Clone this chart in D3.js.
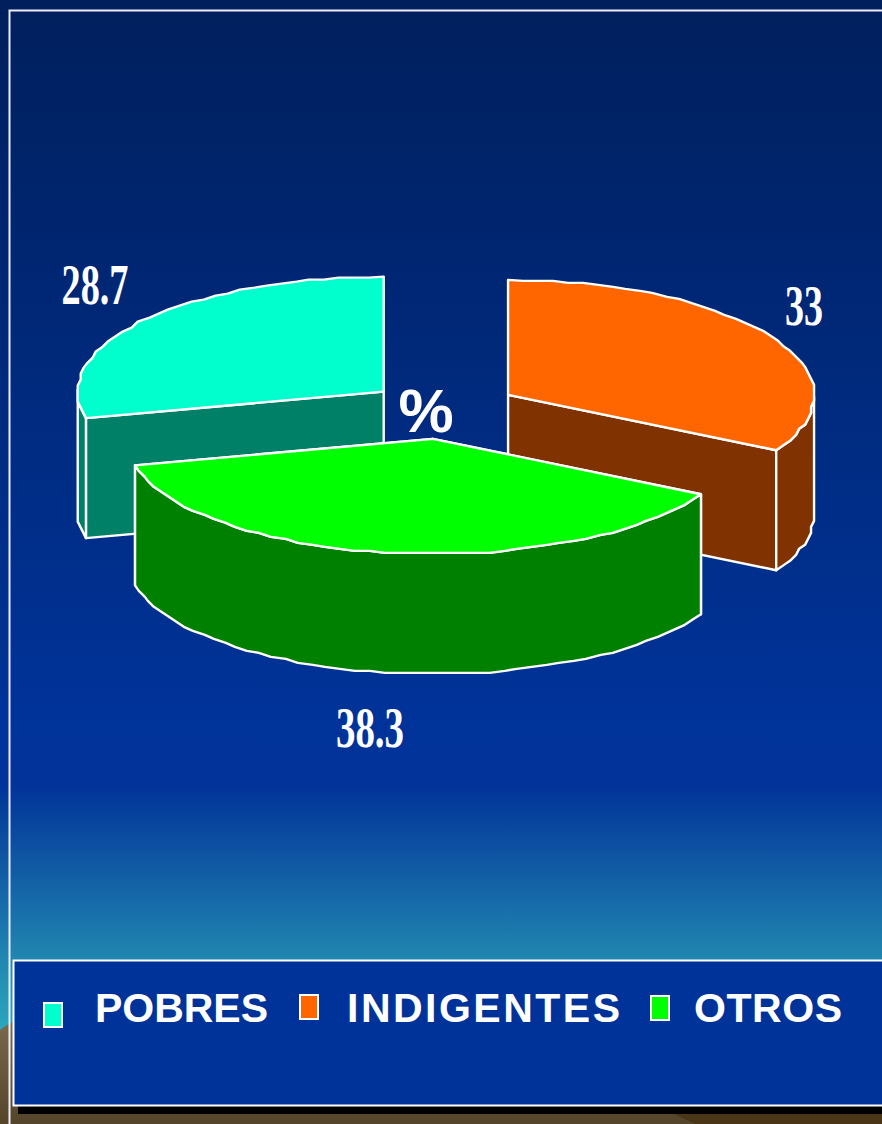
<!DOCTYPE html>
<html>
<head>
<meta charset="utf-8">
<script src="https://cdn.jsdelivr.net/npm/d3@7"></script>
<style>
html, body { margin: 0; padding: 0; background: #003399; overflow: hidden; }
svg { display: block; }
</style>
</head>
<body>
<div id="chart"></div>
<script>
var categories = ["INDIGENTES", "OTROS", "POBRES"];
var values = [33, 38.3, 28.7];
var valueLabels = ["33", "38.3", "28.7"];
var topColors = ["#ff6600", "#00ff00", "#00ffcc"];
var sideColors = ["#803300", "#008000", "#008066"];
var legendOrder = ["POBRES", "INDIGENTES", "OTROS"];

var width = 882, height = 1124;
var rx = 306, ry = 115, depth = 120, explode = 0.247, explodeY = 0.255;
var cx = 443, cy = 409.8;

var svg = d3.select("#chart").append("svg")
    .attr("width", width)
    .attr("height", height);

var defs = svg.append("defs");
var bg = defs.append("linearGradient").attr("id", "bg")
    .attr("x1", 0).attr("y1", 0).attr("x2", 0).attr("y2", 1);
bg.append("stop").attr("offset", 0).attr("stop-color", "#001f5c");
bg.append("stop").attr("offset", 0.69).attr("stop-color", "#003399");
bg.append("stop").attr("offset", 0.755).attr("stop-color", "#013399");
bg.append("stop").attr("offset", 0.95).attr("stop-color", "#2694b4");
bg.append("stop").attr("offset", 1).attr("stop-color", "#2dabc0");
var ground = defs.append("linearGradient").attr("id", "ground")
    .attr("x1", 0).attr("y1", 0).attr("x2", 0).attr("y2", 1);
ground.append("stop").attr("offset", 0).attr("stop-color", "#7a6a4c");
ground.append("stop").attr("offset", 1).attr("stop-color", "#54442a");

// Background
svg.append("rect").attr("width", width).attr("height", 1040).attr("fill", "url(#bg)");
svg.append("path")
    .attr("d", "M0,1030 Q8,1024 16,1020 L882,1020 L882,1124 L0,1124 Z")
    .attr("fill", "url(#ground)");
svg.append("path")
    .attr("d", "M672,1113 L882,1113 L882,1124 L695,1124 Z")
    .attr("fill", "#4a3616");
svg.append("rect")
    .attr("x", 9.5).attr("y", 10.5).attr("width", 880).attr("height", 1130)
    .attr("fill", "none").attr("stroke", "#eef").attr("stroke-width", 2);

// Pie angles
var pie = d3.pie().sort(null).value(function (d) { return d; });
var arcs = pie(values);

function project(angle, r) {
    return [rx * r * Math.sin(angle), -ry * r * Math.cos(angle)];
}

// arc edge in steps, rounded to a small grid like the original's jagged outline
function rim(a0, a1) {
    var n = Math.ceil(Math.abs(a1 - a0) / 0.05), pts = [];
    d3.range(n + 1).forEach(function (i) {
        var p = project(a0 + (a1 - a0) * i / n, 1);
        if (i > 0 && i < n) {
            p = [Math.round(p[0] / 3) * 3, Math.round(p[1] / 2) * 2];
        }
        pts.push(p);
    });
    return pts;
}

var line = d3.line().curve(d3.curveLinearClosed);
var stroke = function (sel) {
    return sel.attr("stroke", "#fff").attr("stroke-width", 2.4).attr("stroke-linejoin", "round");
};

// Back slices first, the green one sits in front
[2, 0, 1].forEach(function (i) {
    var d = arcs[i];
    var mid = (d.startAngle + d.endAngle) / 2;
    var off = [rx * explode * Math.sin(mid), -ry * explodeY * Math.cos(mid)];
    var g = svg.append("g")
        .attr("transform", "translate(" + (cx + off[0]) + "," + (cy + off[1]) + ")");
    var edge = rim(d.startAngle, d.endAngle);
    var down = function (p) { return [p[0], p[1] + depth]; };

    // cut faces that can be seen
    [project(d.startAngle, 1), project(d.endAngle, 1)].forEach(function (p) {
        if (p[1] > -ry + 1) {
            g.append("path")
                .attr("d", line([[0, 0], p, down(p), [0, depth]]))
                .attr("fill", sideColors[i])
                .call(stroke);
        }
    });

    // outer wall, only the part of the rim facing the viewer
    var front = edge.filter(function (p, k) {
        var a = d.startAngle + (d.endAngle - d.startAngle) * k / (edge.length - 1);
        return Math.cos(a) <= 0.02;
    });
    if (front.length > 1) {
        g.append("path")
            .attr("d", line(front.concat(front.slice().reverse().map(down))))
            .attr("fill", sideColors[i])
            .call(stroke);
    }

    // top
    g.append("path")
        .attr("d", line([[0, 0]].concat(edge)))
        .attr("fill", topColors[i])
        .call(stroke);
});

// Value labels
var labelX = [804, 370, 95], labelY = [325, 747, 304];
arcs.forEach(function (d, i) {
    svg.append("text")
        .attr("x", labelX[i])
        .attr("y", labelY[i])
        .attr("text-anchor", "middle")
        .attr("font-family", "'Liberation Serif', serif")
        .attr("font-weight", "bold")
        .attr("font-size", 56)
        .attr("fill", "#fff")
        .attr("textLength", [38, 68, 67][i])
        .attr("lengthAdjust", "spacingAndGlyphs")
        .text(valueLabels[i]);
});

svg.append("text")
    .attr("x", 426).attr("y", 432)
    .attr("text-anchor", "middle")
    .attr("font-family", "'Liberation Sans', sans-serif")
    .attr("font-weight", "bold")
    .attr("font-size", 62)
    .attr("fill", "#fff")
    .text("%");

// Legend
svg.append("rect")
    .attr("x", 18).attr("y", 1000).attr("width", 880).attr("height", 114)
    .attr("fill", "#000");
svg.append("rect")
    .attr("x", 13.5).attr("y", 960.5).attr("width", 880).attr("height", 145)
    .attr("fill", "#003399").attr("stroke", "#fff").attr("stroke-width", 2);

var legendTextX = [95, 347, 694], legendTextW = [173, 273, 148];
var legendBoxX = [44, 300, 651], legendBoxY = [1003, 995, 996];
legendOrder.forEach(function (name, k) {
    var i = categories.indexOf(name);
    svg.append("rect")
        .attr("x", legendBoxX[k]).attr("y", legendBoxY[k])
        .attr("width", 18).attr("height", 24)
        .attr("fill", topColors[i])
        .attr("stroke", "#fff").attr("stroke-width", 2);
    svg.append("text")
        .attr("x", legendTextX[k]).attr("y", 1022)
        .attr("font-family", "'Liberation Sans', sans-serif")
        .attr("font-weight", "bold")
        .attr("font-size", 41)
        .attr("fill", "#fff")
        .attr("textLength", legendTextW[k])
        .attr("lengthAdjust", "spacing")
        .text(name);
});
</script>
</body>
</html>
